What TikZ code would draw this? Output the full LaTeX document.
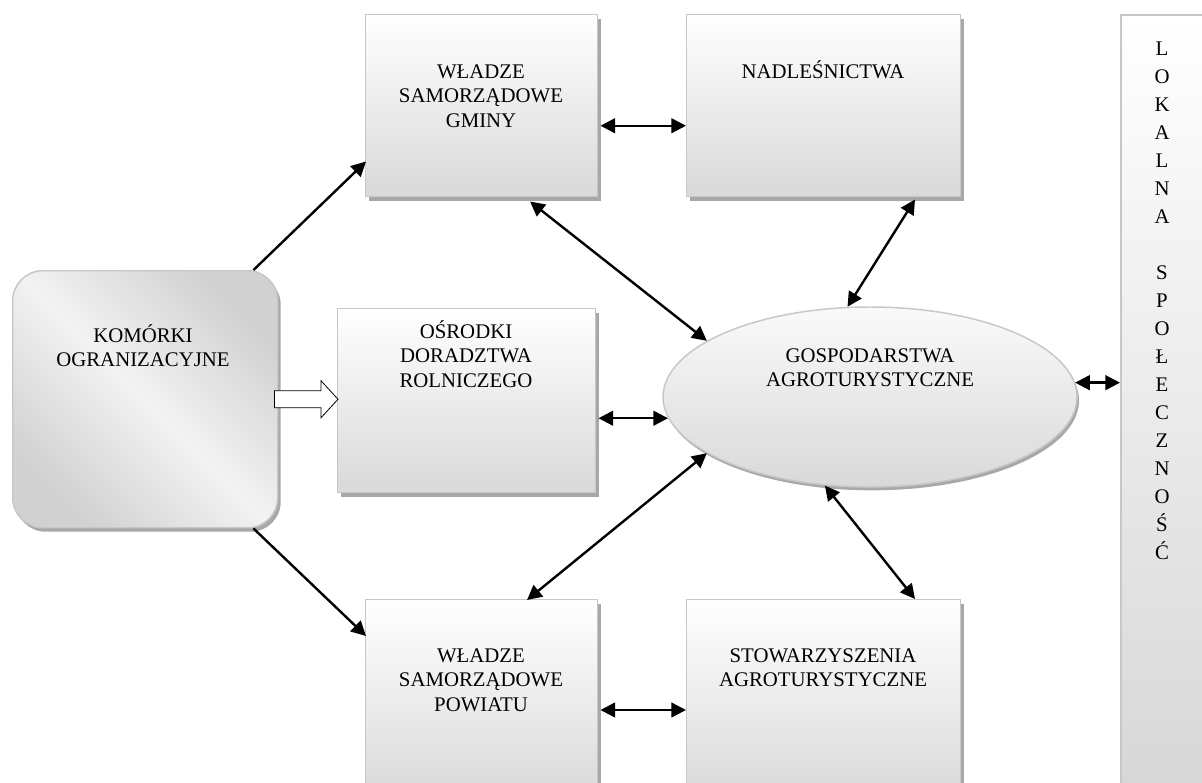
\documentclass[tikz,border=0pt]{standalone}
\usepackage{fontspec}
\setmainfont{Liberation Serif}
\usetikzlibrary{arrows.meta,calc,shadows,shapes.geometric}

% diagonal light/dark band used for the rounded cell on the left
\pgfdeclarehorizontalshading{cellshade}{100bp}{color(0bp)=(black!18); color(25bp)=(black!18); color(50bp)=(black!5); color(75bp)=(black!18); color(100bp)=(black!18)}

\newcommand\labelfont{\fontsize{15.6pt}{18.6pt}\selectfont}
\newcommand\columnfont{\fontsize{15.6pt}{21pt}\selectfont}

\begin{document}
\begin{tikzpicture}[x=0.75pt,y=-0.75pt,
  boxshadow/.style={drop shadow={shadow xshift=2.25pt,shadow yshift=-3pt,fill=black!34,opacity=1}},
  panel/.style={rectangle,draw=black!22,line width=1.1pt,top color=white,bottom color=black!15,
    inner sep=0pt,anchor=north west,boxshadow},
  txt/.style={anchor=base,inner sep=0pt,font=\labelfont},
  both/.style={line width=1.8pt,{Triangle[length=11pt,width=11pt]}-{Triangle[length=11pt,width=11pt]}},
  one/.style={line width=1.8pt,-{Triangle[length=11pt,width=11pt]}}]

\useasboundingbox (0,0) rectangle (1202,782);
\clip (0,0) rectangle (1202,782);

% ---- boxes ----
\node[rectangle,rounded corners=22.5pt,draw=black!22,line width=1.1pt,shading=cellshade,shading angle=45,
      inner sep=0pt,anchor=north west,minimum width=198.75pt,minimum height=192.75pt,boxshadow]
      (kom) at (12,270) {};
\node[panel,minimum width=174pt,minimum height=136.5pt] (gminy) at (365,14) {};
\node[panel,minimum width=205.5pt,minimum height=136.5pt] (nadl) at (686,14) {};
\node[panel,minimum width=193.5pt,minimum height=138pt] (osr) at (337,308) {};
\node[panel,minimum width=174pt,minimum height=150pt] (pow) at (365,599) {};
\node[panel,minimum width=205.5pt,minimum height=150pt] (stow) at (686,599) {};
\node[ellipse,draw=black!22,line width=1.1pt,top color=black!2,bottom color=black!15,inner sep=0pt,
      minimum width=310.5pt,minimum height=135pt,
      drop shadow={shadow xshift=1.5pt,shadow yshift=-2.5pt,fill=black!34,opacity=1}]
      (gosp) at (870,397) {};
\node[rectangle,draw=black!22,line width=1.3pt,top color=white,bottom color=black!16,inner sep=0pt,
      anchor=north west,minimum width=71.25pt,minimum height=592.5pt] (col) at (1120,14) {};

% ---- labels ----
\node[txt] (t-kom) at (143,342) {\begin{tabular}[t]{@{}c@{}}KOMÓRKI\\OGRANIZACYJNE\end{tabular}};
\node[txt] (t-gminy) at (481,78) {\begin{tabular}[t]{@{}c@{}}WŁADZE\\SAMORZĄDOWE\\GMINY\end{tabular}};
\node[txt] (t-nadl) at (823,78) {NADLEŚNICTWA};
\node[txt] (t-osr) at (466,338) {\begin{tabular}[t]{@{}c@{}}OŚRODKI\\DORADZTWA\\ROLNICZEGO\end{tabular}};
\node[txt] (t-gosp) at (870,362) {\begin{tabular}[t]{@{}c@{}}GOSPODARSTWA\\AGROTURYSTYCZNE\end{tabular}};
\node[txt] (t-pow) at (481,662) {\begin{tabular}[t]{@{}c@{}}WŁADZE\\SAMORZĄDOWE\\POWIATU\end{tabular}};
\node[txt] (t-stow) at (823,662) {\begin{tabular}[t]{@{}c@{}}STOWARZYSZENIA\\AGROTURYSTYCZNE\end{tabular}};
\node[anchor=base,inner sep=0pt,font=\columnfont] (t-col) at (1162,55)
  {\begin{tabular}[t]{@{}c@{}}L\\O\\K\\A\\L\\N\\A\\ \\S\\P\\O\\Ł\\E\\C\\Z\\N\\O\\Ś\\Ć\end{tabular}};

% ---- connectors ----
\draw[one] ($(kom.north east)+(-25,0)$) -- ($(gminy.south west)+(1,-36)$);
\draw[one] ($(kom.south east)+(-25,0)$) -- ($(pow.north west)+(1,37)$);
\draw[both] ($(gminy.east)+(2,20)$) -- ($(nadl.west)+(0,20)$);
\draw[both] ($(gminy.south west)+(165,4)$) -- (gosp.161);
\draw[both] ($(nadl.south west)+(229,2)$) -- (gosp.104);
\draw[both,shorten <=1.5pt] (osr.east |- gosp.186) -- (gosp.186);
\draw[both] (gosp.199) -- ($(pow.north west)+(162,1)$);
\draw[both] (gosp.243) -- ($(stow.north west)+(229,0)$);
\draw[both] ($(pow.north east)+(2,111)$) -- ($(stow.north west)+(0,111)$);
\draw[both] (gosp.4.4) -- (col.west |- gosp.4.4);

% hollow block arrow from the cell to the advisory centres
\coordinate (ba0) at ($(kom.east)+(-4,0)$);
\coordinate (ba1) at ($(osr.west |- kom.east)+(1,0)$);
\draw[line width=0.6pt,fill=white]
  ($(ba0)+(0,-8.5)$) -- ($(ba1)+(-17,-8.5)$) -- ($(ba1)+(-17,-18.5)$) -- (ba1)
  -- ($(ba1)+(-17,18.5)$) -- ($(ba1)+(-17,8.5)$) -- ($(ba0)+(0,8.5)$) -- cycle;
\end{tikzpicture}
\end{document}
